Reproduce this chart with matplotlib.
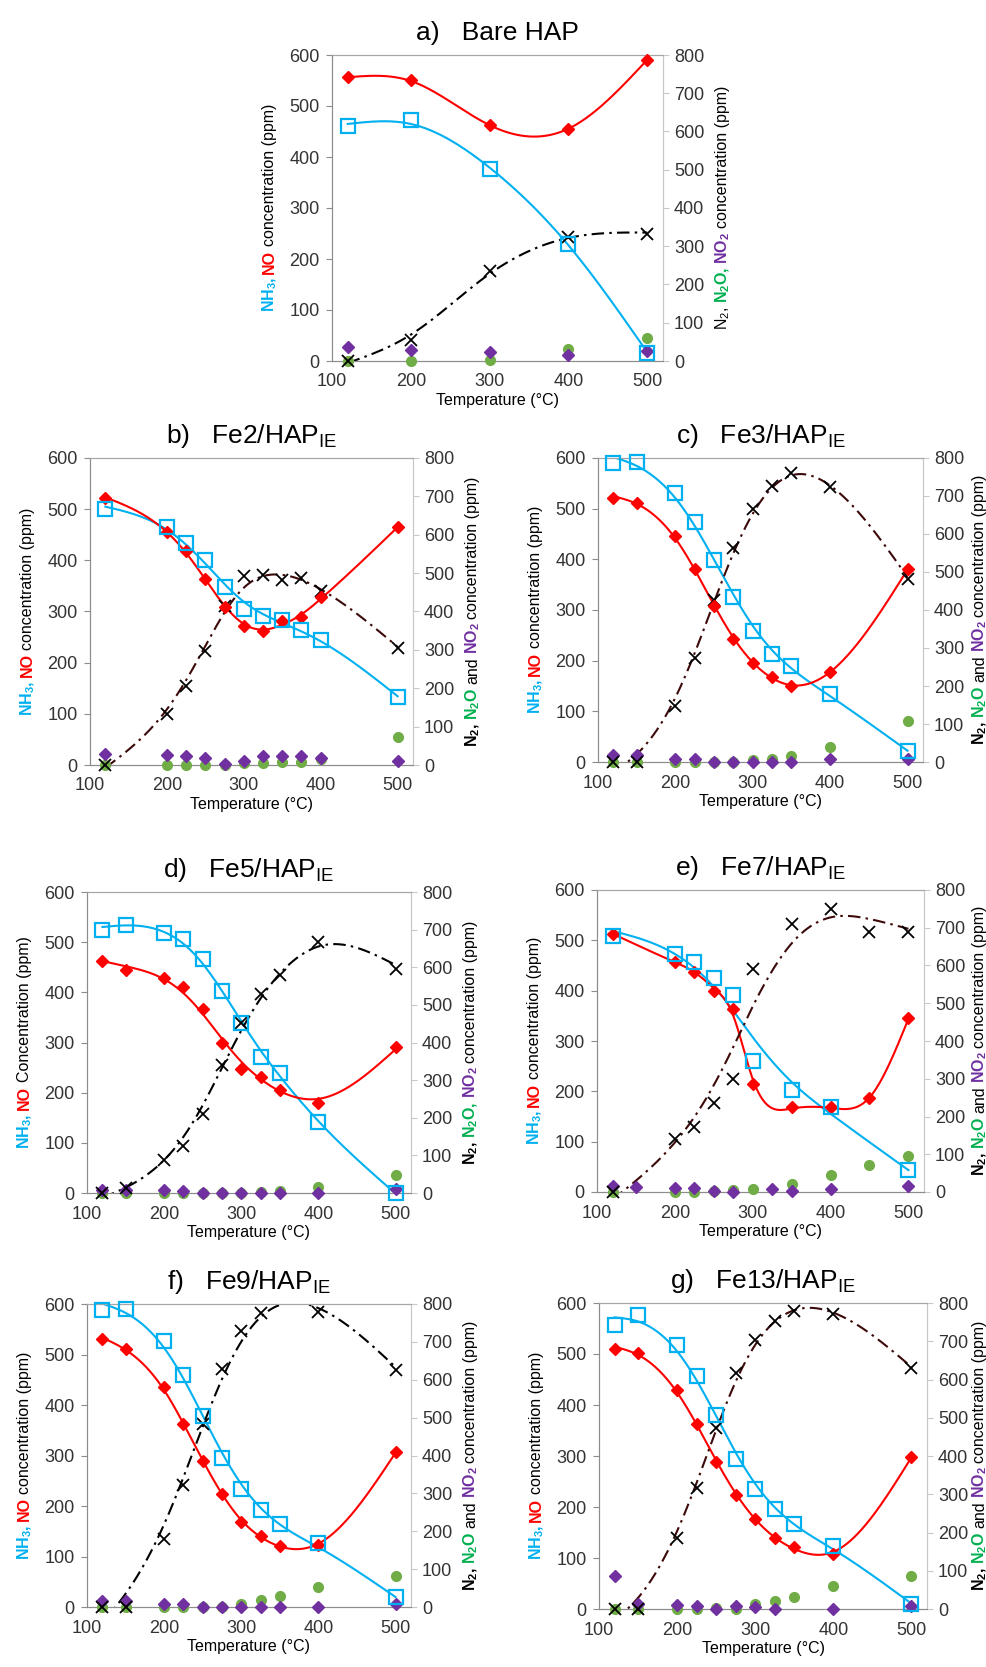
import numpy as np
import matplotlib.pyplot as plt
from matplotlib.transforms import IdentityTransform

plt.rcParams['font.family'] = ['Liberation Sans', 'DejaVu Sans']
plt.rcParams['mathtext.default'] = 'regular'

C_NH3 = '#00B0F0'
C_NO = '#FF0000'
C_N2O = '#70AD47'
C_N2O_TXT = '#00B050'
C_NO2 = '#7030A0'

# a) bare HAP
T_a = [120, 200, 300, 400, 500]
nh3_a = [460, 472, 376, 230, 15]
no_a = [556, 550, 462, 455, 591]
n2_a = [0, 56, 236, 324, 333]
n2o_a = [0, 0, 2, 32, 60]
no2_a = [37, 29, 23, 16, 27]

# b) Fe2
T_b = [120, 200, 225, 250, 275, 300, 325, 350, 375, 400, 500]
nh3_b = [501, 466, 434, 401, 348, 305, 292, 283, 263, 245, 133]
no_b = [522, 456, 419, 364, 309, 271, 261, 281, 289, 328, 465]
n2_b = [0, 134, 205, 298, 414, 492, 494, 483, 486, 453, 306]
n2o_b = [0, 0, 0, 1, 0, 4, 5, 7, 9, 16, 72]
no2_b = [29, 25, 23, 18, 2, 10, 23, 23, 23, 18, 10]

# c) Fe3
T_c = [120, 150, 200, 225, 250, 275, 300, 325, 350, 400, 500]
nh3_c = [590, 592, 531, 473, 399, 326, 259, 213, 189, 135, 22]
no_c = [521, 512, 446, 381, 308, 242, 196, 167, 150, 177, 381]
n2_c = [0, 0, 147, 273, 426, 563, 666, 727, 760, 723, 481]
n2o_c = [0, 0, 0, 0, 1, 0, 5, 9, 16, 40, 107]
no2_c = [18, 18, 9, 9, 0, 0, 0, 0, 0, 7, 9]

# d) Fe5
T_d = [120, 150, 200, 225, 250, 275, 300, 325, 350, 400, 500]
nh3_d = [525, 534, 518, 506, 467, 402, 338, 271, 239, 142, 0]
no_d = [462, 445, 429, 411, 367, 299, 248, 231, 206, 180, 291]
n2_d = [0, 12, 89, 125, 211, 339, 452, 528, 579, 667, 596]
n2o_d = [0, 0, 0, 0, 0, 0, 0, 3, 4, 17, 49]
no2_d = [7, 7, 7, 4, 0, 0, 0, 0, 0, 0, 11]

# e) Fe7
T_e_nh3 = [120, 200, 225, 250, 275, 300, 350, 400, 500]
nh3_e = [509, 472, 456, 426, 391, 261, 202, 169, 44]
T_e = [120, 200, 225, 250, 275, 300, 350, 400, 450, 500]
no_e = [513, 456, 438, 400, 363, 214, 168, 168, 186, 345]
n2_e = [0, 140, 171, 236, 300, 592, 709, 749, 689, 689]
n2o_e = [0, 0, 0, 3, 4, 7, 20, 45, 72, 96]
T_e_no2 = [120, 150, 200, 225, 250, 275, 325, 350, 400, 500]
no2_e = [16, 13, 11, 11, 3, 1, 7, 3, 7, 17]

# f) Fe9
T_f = [120, 150, 200, 225, 250, 275, 300, 325, 350, 400, 500]
nh3_f = [588, 590, 527, 460, 378, 296, 234, 192, 164, 126, 19]
no_f = [530, 511, 436, 362, 289, 223, 168, 141, 121, 123, 307]
T_f_n2 = [120, 150, 200, 225, 250, 275, 300, 325, 400, 500]
n2_f = [0, 0, 180, 321, 484, 628, 728, 776, 780, 625]
n2o_f = [0, 0, 0, 0, 0, 0, 9, 19, 28, 53, 83]
no2_f = [17, 16, 9, 7, 0, 0, 0, 0, 0, 0, 9]

# g) Fe13
T_g = [120, 150, 200, 225, 250, 275, 300, 325, 350, 400, 500]
nh3_g = [556, 576, 517, 456, 380, 295, 236, 196, 167, 124, 10]
no_g = [510, 502, 429, 363, 289, 224, 176, 140, 121, 108, 299]
n2_g = [0, 0, 185, 316, 473, 617, 703, 752, 780, 771, 629]
n2o_g = [0, 0, 0, 0, 3, 0, 12, 21, 31, 59, 85]
T_g_no2 = [120, 150, 200, 225, 250, 275, 300, 325, 400, 500]
no2_g = [87, 13, 11, 9, 0, 7, 4, 0, 0, 7]

LEFT = [("NH$_3$,", C_NH3, 'bold'), ("NO", C_NO, 'bold'),
        ("concentration (ppm)", 'black', 'normal')]
LEFT_CAP = [("NH$_3$,", C_NH3, 'bold'), ("NO", C_NO, 'bold'),
            ("Concentration (ppm)", 'black', 'normal')]
RIGHT_A = [("N$_2$,", 'black', 'normal'), ("N$_2$O,", C_N2O_TXT, 'bold'),
           ("NO$_2$", C_NO2, 'bold'), ("concentration (ppm)", 'black', 'normal')]
RIGHT_D = [("N$_2$,", 'black', 'bold'), ("N$_2$O,", C_N2O_TXT, 'bold'),
           ("NO$_2$", C_NO2, 'bold'), ("concentration (ppm)", 'black', 'normal')]
RIGHT_AND = [("N$_2$,", 'black', 'bold'), ("N$_2$O", C_N2O_TXT, 'bold'),
             ("and", 'black', 'normal'), ("NO$_2$", C_NO2, 'bold'),
             ("concentration (ppm)", 'black', 'normal')]

W, H = 987, 1667
fig = plt.figure(figsize=(W / 100, H / 100), dpi=100)
renderer = fig.canvas.get_renderer()


def smooth(x, y, lam):
    # penalised (second difference) smoother on a 1 degC grid
    x = np.asarray(x, float)
    y = np.asarray(y, float)
    xs = np.arange(x.min(), x.max() + 0.5, 1.0)
    n = len(xs)
    idx = np.searchsorted(xs, x)
    w = np.zeros(n)
    z = np.zeros(n)
    w[idx] += 1
    z[idx] += y
    D = np.diff(np.eye(n), 2, axis=0)
    return xs, np.linalg.solve(np.diag(w) + lam * D.T @ D, z)


def stacked_label(ax, pieces, xoff, size=11.5):
    # multi-coloured rotated label, pieces laid out bottom to top
    bb = ax.get_window_extent(renderer)
    gap = size * 0.3
    items = []
    for s, c, w in pieces:
        t = fig.text(0, 0, s, color=c, fontweight=w, fontsize=size,
                     rotation=90, rotation_mode='anchor', ha='left',
                     va='baseline', transform=IdentityTransform())
        items.append((t, t.get_window_extent(renderer).height))
    total = sum(h for _, h in items) + gap * (len(items) - 1)
    if xoff < 0:
        x = bb.x0 + xoff
    else:
        x = min(bb.x1 + xoff, W - 3)
    y = (bb.y0 + bb.y1) / 2 - total / 2
    for t, h in items:
        t.set_position((x, y))
        y += h + gap


def panel(box, title, nh3, no, n2, n2o, no2, lams, n2_color, left, right):
    l, t, r, b = box
    ax = fig.add_axes([l / W, 1 - b / H, (r - l) / W, (b - t) / H])
    ax2 = ax.twinx()
    ax.set_xlim(100, 520)
    ax.set_ylim(0, 600)
    ax2.set_ylim(0, 800)
    ax.set_xticks(range(100, 501, 100))
    ax.set_yticks(range(0, 601, 100))
    ax2.set_yticks(range(0, 801, 100))
    for a in (ax, ax2):
        a.spines['left'].set_color('#8c8c8c')
        a.spines['bottom'].set_color('#8c8c8c')
        a.spines['top'].set_color('#a6a6a6')
        a.spines['right'].set_color('#c8c8c8')
    ax.tick_params(axis='x', length=0, labelsize=13, colors='#333333', pad=9)
    ax.tick_params(axis='y', length=4, color='#8c8c8c', labelsize=13,
                   labelcolor='#333333', pad=5)
    ax2.tick_params(axis='y', length=4, color='#c8c8c8', labelsize=13,
                    labelcolor='#333333', pad=4)
    ax.set_xlabel('Temperature (°C)', fontsize=11.5, labelpad=2)
    ax.set_title(title, fontsize=19, pad=11)

    l_nh3, l_no, l_n2 = lams
    xs, ys = smooth(*nh3, l_nh3)
    ax.plot(xs, ys, color=C_NH3, lw=1.5)
    xs, ys = smooth(*no, l_no)
    ax.plot(xs, ys, color=C_NO, lw=1.5)
    xs, ys = smooth(*n2, l_n2)
    ax2.plot(xs, ys, color=n2_color, lw=1.5, linestyle=(0, (6, 2.5, 1.2, 2.5)))

    # all markers live on the right-hand axes so they sit above every line
    k = 800 / 600
    ax2.plot(n2o[0], n2o[1], 'o', color=C_N2O, ms=7, clip_on=False, zorder=3)
    ax2.plot(no2[0], no2[1], 'D', color=C_NO2, ms=6, clip_on=False, zorder=3)
    ax2.plot(n2[0], n2[1], 'x', color='black', ms=9, mew=1.3, clip_on=False, zorder=4)
    ax2.plot(no[0], [v * k for v in no[1]], 'D', color=C_NO, ms=6.5,
             clip_on=False, zorder=4)
    ax2.plot(nh3[0], [v * k for v in nh3[1]], 's', mfc='none', mec=C_NH3,
             ms=9.5, mew=1.6, clip_on=False, zorder=4)

    stacked_label(ax, left, -58)
    stacked_label(ax, right, 64)


panel((332, 55, 663, 361), 'a)   Bare HAP',
      (T_a, nh3_a), (T_a, no_a), (T_a, n2_a), (T_a, n2o_a), (T_a, no2_a),
      (3e4, 2e3, 3e4), 'black', LEFT, RIGHT_A)
panel((90, 458, 413, 765), 'b)   Fe2/HAP$_{IE}$',
      (T_b, nh3_b), (T_b, no_b), (T_b, n2_b), (T_b, n2o_b), (T_b, no2_b),
      (2e4, 5e3, 2e4), '#3c0a0a', LEFT, RIGHT_AND)
panel((598, 458, 923, 762), 'c)   Fe3/HAP$_{IE}$',
      (T_c, nh3_c), (T_c, no_c), (T_c, n2_c), (T_c, n2o_c), (T_c, no2_c),
      (2e4, 5e3, 2e4), '#3c0a0a', LEFT, RIGHT_AND)
panel((87, 892, 411, 1193), 'd)   Fe5/HAP$_{IE}$',
      (T_d, nh3_d), (T_d, no_d), (T_d, n2_d), (T_d, n2o_d), (T_d, no2_d),
      (2e4, 2e4, 3e4), 'black', LEFT_CAP, RIGHT_D)
panel((597, 890, 924, 1192), 'e)   Fe7/HAP$_{IE}$',
      (T_e_nh3, nh3_e), (T_e, no_e), (T_e, n2_e), (T_e, n2o_e), (T_e_no2, no2_e),
      (6e4, 5e2, 8e4), '#3c0a0a', LEFT, RIGHT_AND)
panel((87, 1304, 411, 1607), 'f)   Fe9/HAP$_{IE}$',
      (T_f, nh3_f), (T_f, no_f), (T_f_n2, n2_f), (T_f, n2o_f), (T_f, no2_f),
      (2e4, 5e3, 4e4), 'black', LEFT, RIGHT_AND)
panel((599, 1303, 927, 1609), 'g)   Fe13/HAP$_{IE}$',
      (T_g, nh3_g), (T_g, no_g), (T_g, n2_g), (T_g, n2o_g), (T_g_no2, no2_g),
      (2e4, 5e3, 2e4), '#3c0a0a', LEFT, RIGHT_AND)

fig.savefig('out.png', dpi=100)
